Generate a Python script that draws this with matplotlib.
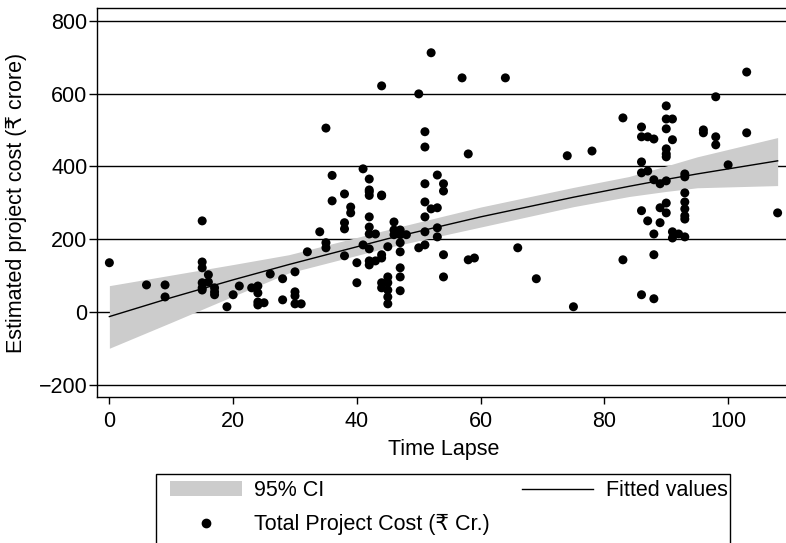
import matplotlib
matplotlib.use("Agg")
import matplotlib.pyplot as plt
from matplotlib.lines import Line2D
from matplotlib.patches import Patch, Rectangle

plt.rcParams["font.family"] = ["Liberation Sans", "DejaVu Sans"]

# ─── Data ────────────────────────────────────────────────────
time_lapse = [
    0, 6, 9, 9, 15, 15, 15, 16, 15, 15, 15, 16, 17, 17, 17, 19, 20, 21, 23, 24,
    24, 24, 24, 25, 26, 28, 28, 30, 30, 30, 30, 31, 32, 34, 35, 35, 35, 36, 36, 38,
    38, 38, 38, 39, 39, 40, 40, 41, 41, 42, 42, 42, 42, 42, 42, 42, 42, 42, 42, 43,
    43, 44, 44, 44, 44, 44, 44, 44, 45, 45, 45, 45, 45, 45, 46, 46, 46, 47, 47, 47,
    47, 47, 47, 47, 48, 50, 50, 51, 51, 51, 51, 51, 51, 51, 52, 52, 53, 53, 53, 53,
    54, 54, 54, 54, 57, 58, 58, 59, 64, 66, 69, 74, 75, 78, 83, 83,
    86, 86, 87, 88, 86, 86, 87, 88, 89, 90, 86, 87, 89, 90, 90, 89, 88, 91, 92, 93,
    91, 88, 86, 88, 90, 90, 91, 90, 91, 90, 90, 90, 93, 93, 93, 93, 93, 93, 93, 96,
    96, 98, 98, 98, 100, 103, 103, 108,
]
project_cost = [
    135, 74, 74, 41, 250, 137, 121, 102, 80, 66, 60, 82, 66, 55, 47, 14, 47, 71, 66, 71,
    52, 27, 19, 25, 104, 91, 33, 110, 55, 44, 22, 22, 165, 220, 190, 176, 505, 375, 305, 324,
    245, 228, 154, 288, 272, 135, 80, 393, 184, 365, 335, 330, 320, 261, 233, 214, 173, 140, 129, 214,
    140, 621, 321, 319, 157, 148, 80, 66, 179, 96, 80, 60, 41, 22, 247, 225, 212, 225, 212, 190,
    165, 121, 96, 58, 212, 599, 176, 495, 453, 352, 302, 261, 220, 184, 712, 283, 376, 286, 231, 206,
    352, 332, 157, 96, 643, 434, 143, 148, 643, 176, 91, 429, 14, 442, 533, 143,
    508, 481, 481, 475, 412, 382, 387, 363, 352, 360, 278, 250, 286, 299, 272, 245, 214, 220, 214, 206,
    203, 157, 47, 36, 566, 530, 530, 503, 473, 448, 434, 426, 379, 371, 327, 302, 283, 264, 255, 500,
    492, 591, 481, 459, 404, 659, 492, 272,
]

# fitted curve and its 95% band, read at a few x positions
fit_x  = [0, 10, 20, 29, 45, 60, 75, 84, 90, 95, 108]
fit_y  = [-13, 39, 88, 130, 201, 261, 315, 345, 364, 379, 415]
ci_hi  = [72, 101, 130, 157, 226, 288, 342, 372, 401, 426, 479]
ci_lo  = [-100, -29, 43, 107, 177, 233, 289, 317, 331, 341, 347]

y_ticks = [-200, 0, 200, 400, 600, 800]
y_labels = ["\u2212200", "0", "200", "400", "600", "800"]
x_ticks = [0, 20, 40, 60, 80, 100]

GRAY = "#cccccc"
FS = 15.5
W, H = 786, 543

fig = plt.figure(figsize=(W / 100, H / 100), dpi=100)
ax = fig.add_axes([97 / W, 1 - 397 / H, (790 - 97) / W, 389 / H])

ax.fill_between(fit_x, ci_lo, ci_hi, color=GRAY, linewidth=0, zorder=1)
ax.plot(fit_x, fit_y, color="black", linewidth=1.0, zorder=2)
ax.scatter(time_lapse, project_cost, s=42, color="black", edgecolors="none", zorder=3)

ax.set_xlim(-2, 110)
ax.set_ylim(-234, 835)
ax.set_yticks(y_ticks)
ax.set_yticklabels(y_labels)
ax.set_xticks(x_ticks)
ax.grid(True, axis="y", color="black", linewidth=1.0, zorder=0)
ax.set_axisbelow(True)
ax.tick_params(axis="y", length=6, width=1.0, labelsize=FS, pad=1)
ax.tick_params(axis="x", length=5, width=1.0, labelsize=FS, pad=5)
for sp in ax.spines.values():
    sp.set_linewidth(1.0)
ax.set_xlabel("Time Lapse", fontsize=FS, labelpad=5)
ax.set_ylabel("Estimated project cost (\u20b9 crore)", fontsize=FS, labelpad=8)

# legend box runs off the bottom of the picture, so draw its frame by hand
fig.patches.append(Rectangle((156 / W, -0.05), (730 - 156) / W, 1 - 474 / H + 0.05,
                             transform=fig.transFigure, fill=False,
                             edgecolor="black", linewidth=1.0))
handles = [
    Patch(facecolor=GRAY, edgecolor="none"),
    Line2D([], [], marker="o", linestyle="none", color="black", markersize=6),
    Line2D([], [], color="black", linewidth=1.0),
]
labels = ["95% CI", "Total Project Cost (\u20b9 Cr.)", "Fitted values"]
fig.legend(handles, labels, ncol=2, loc="upper left",
           bbox_to_anchor=(164 / W, 1 - 474 / H, (734 - 164) / W, 0.0),
           mode="expand", fontsize=FS, frameon=False,
           handlelength=3.3, handletextpad=0.6,
           labelspacing=0.6, borderpad=0.3, borderaxespad=0)

fig.savefig("out.png", dpi=100)
